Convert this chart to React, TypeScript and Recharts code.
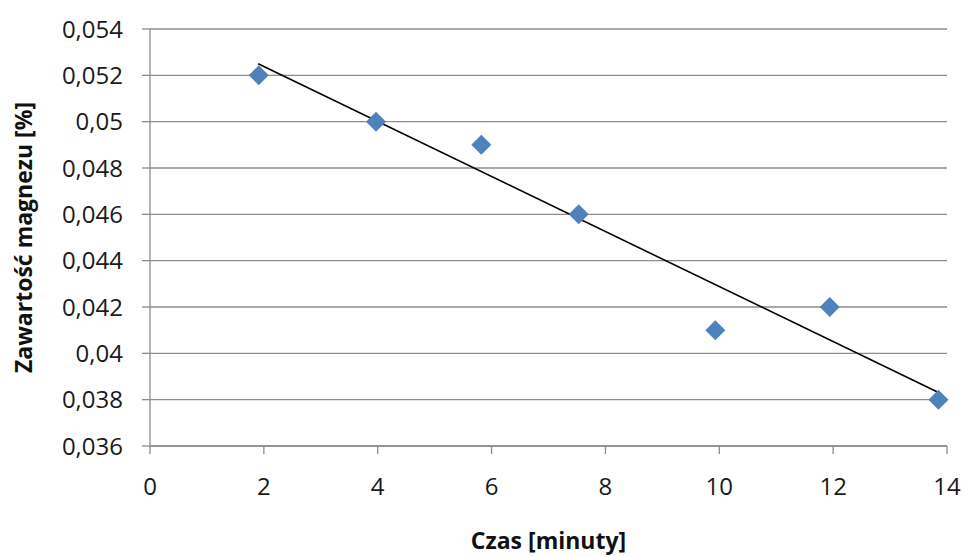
import {
  CartesianGrid,
  Scatter,
  ScatterChart,
  XAxis,
  YAxis,
} from "recharts";

const czas = [1.91, 3.97, 5.82, 7.53, 9.93, 11.94, 13.85];
const magnez = [0.052, 0.05, 0.049, 0.046, 0.041, 0.042, 0.038];

// linia trendu (końce)
const trendX = [1.9, 13.86];
const trendY = [0.0525, 0.0383];

const xTicks = [0, 2, 4, 6, 8, 10, 12, 14];
const yTicks = [
  0.036, 0.038, 0.04, 0.042, 0.044, 0.046, 0.048, 0.05, 0.052, 0.054,
];

const points = czas.map((x, i) => ({ x, y: magnez[i] }));
const trend = trendX.map((x, i) => ({ x, y: trendY[i] }));

const FONT = "'Open Sans', sans-serif";
const AXIS = "#8c8c8c";

const Diamond = (props: any) => {
  const { cx, cy } = props;
  const r = 10;
  return (
    <polygon
      points={`${cx},${cy - r} ${cx + r},${cy} ${cx},${cy + r} ${cx - r},${cy}`}
      fill="#4f81bd"
    />
  );
};

const NoDot = () => <g />;

const fmt = (v: number) => String(v).replace(".", ",");

const App = () => {
  return (
    <div
      style={{
        position: "fixed",
        top: 0,
        left: 0,
        width: 964,
        height: 557,
        background: "#fff",
      }}
    >
      <ScatterChart
        width={964}
        height={557}
        margin={{ top: 29, right: 17, bottom: 0, left: 0 }}
        style={{ fontFamily: FONT }}
      >
        <CartesianGrid vertical={false} stroke={AXIS} strokeWidth={1.3} />
        <XAxis
          type="number"
          dataKey="x"
          domain={[0, 14]}
          ticks={xTicks}
          height={111}
          stroke={AXIS}
          strokeWidth={1.3}
          tickSize={8}
          tickMargin={24}
          tick={{ fill: "#1a1a1a", fontSize: 24, fontFamily: FONT }}
          label={{
            content: ({ viewBox }: any) => (
              <text
                x={viewBox.x + viewBox.width / 2}
                y={543}
                textAnchor="middle"
                dominantBaseline="middle"
                fontSize={23}
                fontWeight="bold"
                fontFamily={FONT}
                fill="#111"
              >
                Czas [minuty]
              </text>
            ),
          }}
        />
        <YAxis
          type="number"
          dataKey="y"
          domain={[0.036, 0.054]}
          ticks={yTicks}
          width={150}
          stroke={AXIS}
          strokeWidth={1.3}
          tickSize={8}
          tickMargin={19}
          tickFormatter={fmt}
          tick={{ fill: "#1a1a1a", fontSize: 24, fontFamily: FONT }}
          label={{
            content: ({ viewBox }: any) => {
              const cy = viewBox.y + viewBox.height / 2;
              return (
                <text
                  x={26}
                  y={cy}
                  transform={`rotate(-90 26 ${cy})`}
                  textAnchor="middle"
                  dominantBaseline="middle"
                  fontSize={23}
                  fontWeight="bold"
                  fontFamily={FONT}
                  fill="#111"
                >
                  Zawartość magnezu [%]
                </text>
              );
            },
          }}
        />
        <Scatter
          data={trend}
          line={{ stroke: "#000", strokeWidth: 1.6 }}
          shape={NoDot}
          isAnimationActive={false}
        />
        <Scatter data={points} shape={Diamond} isAnimationActive={false} />
      </ScatterChart>
    </div>
  );
};

export default App;
